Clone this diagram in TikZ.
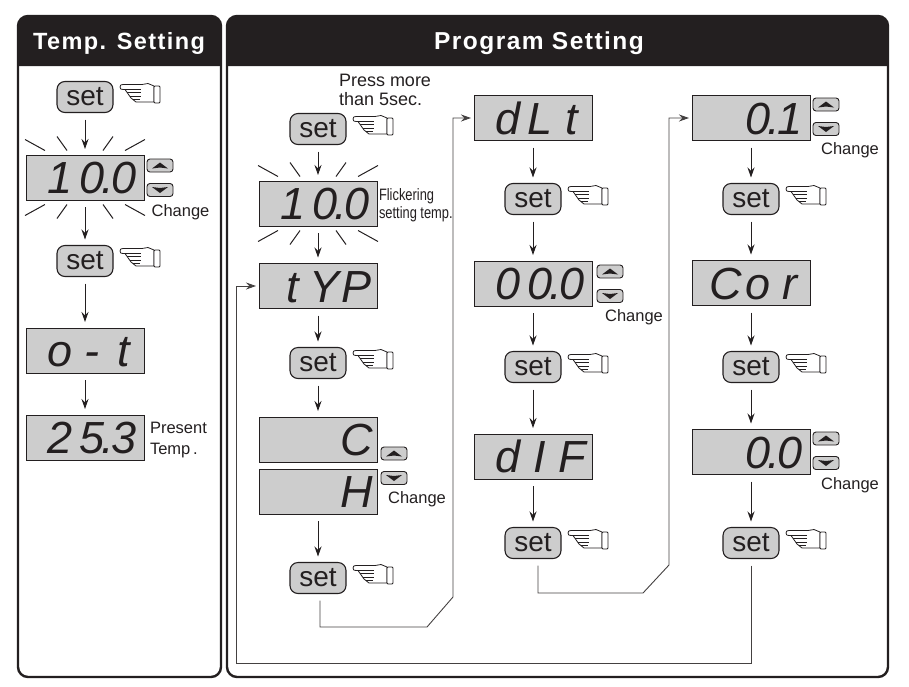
\documentclass[tikz,border=0pt]{standalone}
\usepackage{fontspec}
\setmainfont{Liberation Sans}
\newfontfamily\headfont[LetterSpace=6]{Liberation Sans}
\newfontfamily\narrowfont[FakeStretch=0.78]{Liberation Sans}
\usetikzlibrary{arrows.meta}
\definecolor{ink}{HTML}{231F20}
\definecolor{lcdgray}{HTML}{CDCDCD}
\newcommand\cell[1]{\makebox[32pt][c]{#1}}
\newcommand\lcddot{\makebox[0pt][c]{.}}
\tikzset{
  setkey/.style={draw=ink, line width=1.1pt, fill=lcdgray, rounded corners=8pt, minimum width=56pt, minimum height=31pt, inner sep=0pt, outer sep=0pt, font=\fontsize{28}{28}\selectfont, text=ink},
  lcd/.style={draw=ink, line width=1pt, fill=lcdgray, text width=110pt, inner xsep=4pt, inner ysep=0pt, outer sep=0pt, minimum height=45pt, text height=32pt, text depth=0pt, align=right, font=\itshape\fontsize{45}{45}\selectfont, text=ink},
  note/.style={inner sep=0pt, outer sep=0pt, anchor=base west, font=\fontsize{16.5}{21}\selectfont, text=ink, align=left},
  head/.style={text=white, inner sep=0pt, font=\headfont\bfseries\fontsize{24.5}{24.5}\selectfont},
  panel/.style={draw=ink, line width=2.4pt, rounded corners=10pt},
  flow/.style={draw=ink, line width=.9pt, -{Stealth[length=10pt,width=7pt]}, shorten <=7pt, shorten >=6pt},
  route/.style={draw=ink!85, line width=.9pt, -{Stealth[length=10pt,width=7pt]}, shorten <=7pt, shorten >=3pt},
  hand/.pic={
    \draw[ink, line width=.8pt, fill=white, line join=round] (0,0) .. controls (0,-2) and (1,-2.5) .. (3,-2.5) -- (22,-2.5) -- (28,-3.5) -- (34,-1) -- (34,15) -- (16,15) -- (11,11) -- (5,2.5) -- (3,2.5) .. controls (1,2.5) and (0,2) .. (0,0) -- cycle;
    \draw[ink, line width=.8pt, fill=white, rounded corners=1pt] (34,-1) rectangle (40,16);
    \draw[ink, line width=.8pt] (5,2.5) -- (21,2.5) (7,5.5) -- (21,5.5) (10,9) -- (21,9) (13,12) -- (20,12);
  },
  flash/.pic={
    \foreach \sx in {-1,1} \foreach \sy in {-1,1} {
      \draw[ink, line width=1pt] (\sx*40,\sy*27) -- (\sx*60,\sy*38);
      \draw[ink, line width=1pt] (\sx*18,\sy*27) -- (\sx*28,\sy*41);
    }
  },
  updown/.pic={
    \draw[ink, line width=.9pt, fill=lcdgray, rounded corners=3pt] (0,0) rectangle (26,13);
    \draw[ink, line width=.9pt, fill=lcdgray, rounded corners=3pt] (0,24.5) rectangle (26,37.5);
    \fill[ink] (5,9.5) -- (13,3.5) -- (21,9.5) -- (13,8.5) -- cycle;
    \fill[ink] (5,28) -- (13,29) -- (21,28) -- (13,34) -- cycle;
  }
}
\begin{document}
\begin{tikzpicture}[x=1pt, y=-1pt]
  \useasboundingbox (0,0) rectangle (909,686);
  % Panels
  \fill[ink] (18,66) [rounded corners=10pt] -- (18,16) -- (221,16) [sharp corners] -- (221,66) -- cycle;
  \fill[ink] (227,66) [rounded corners=10pt] -- (227,16) -- (888,16) [sharp corners] -- (888,66) -- cycle;
  \draw[panel] (18,16) rectangle (221,677);
  \draw[panel] (227,16) rectangle (888,677);
  \node[head, font=\headfont\bfseries\fontsize{23.5}{23.5}\selectfont] (headT) at (119,43) {Temp. Setting};
  \node[head] (headP) at (539,43) {Program Setting};
  % Set keys
  \foreach \n/\x/\y in {setA/85/97, setB/85/261, setC/318/129, setD/318/363, setE/318/578, setF/533/199, setG/533/367, setH/533/543, setI/751/199, setJ/751/367, setK/751/543} {
    \node[setkey] (\n) at (\x,\y) {set};
    \pic at ([shift={(7,-10)}]\n.east) {hand};
  }
  % Displays
  \node[lcd] (lcdA) at (85,177.5) {\cell1\cell0\lcddot\cell0};
  \node[lcd] (lcdB) at (85,350.5) {\cell o\cell -\cell t};
  \node[lcd] (lcdC) at (85,437.5) {\cell2\cell5\lcddot\cell3};
  \node[lcd] (lcdD) at (318,203.5) {\cell1\cell0\lcddot\cell0};
  \node[lcd] (lcdE) at (318,286) {\cell t\cell Y\cell P};
  \node[lcd] (lcdF) at (318,439.5) {\cell C};
  \node[lcd] (lcdG) at (318,491.5) {\cell H};
  \node[lcd] (lcdH) at (533,118) {\cell d\cell L\cell t};
  \node[lcd] (lcdI) at (533,283.5) {\cell0\cell0\lcddot\cell0};
  \node[lcd] (lcdJ) at (533,456.5) {\cell d\cell I\cell F};
  \node[lcd] (lcdK) at (751,118) {\cell0\lcddot\cell1};
  \node[lcd] (lcdL) at (751,283) {\cell C\cell o\cell r};
  \node[lcd] (lcdM) at (751,452) {\cell0\lcddot\cell0};
  % Flashing rays
  \pic at (lcdA.center) {flash};
  \pic at (lcdD.center) {flash};
  % Up and down keys
  \foreach \x/\y in {147/159, 381/447, 597/265, 813/98, 813/432} \pic at (\x,\y) {updown};
  % Notes
  \node[note, anchor=center] (chgA) at (180.5,212) {Change};
  \node[note, anchor=center] (chgB) at (417,499) {Change};
  \node[note, anchor=center] (chgC) at (634,317) {Change};
  \node[note, anchor=center] (chgD) at (850,150) {Change};
  \node[note, anchor=center] (chgE) at (850,485) {Change};
  \node[note] (present) at (150,454) {Present\\Temp\,.};
  \node[note, font=\fontsize{18}{19}\selectfont] (press) at (339,105) {Press more\\than 5sec.};
  \node[note, font=\narrowfont\fontsize{16.5}{18}\selectfont] (flick) at (379,218) {Flickering\\setting temp.};
  % Straight steps
  \foreach \a/\b in {setA/lcdA, lcdA/setB, setB/lcdB, lcdB/lcdC, setC/lcdD, lcdD/lcdE, lcdE/setD, setD/lcdF, lcdG/setE, lcdH/setF, setF/lcdI, lcdI/setG, setG/lcdJ, lcdJ/setH, lcdK/setI, setI/lcdL, lcdL/setJ, setJ/lcdM, lcdM/setK}
    \draw[flow] (\a.south) -- (\b.north);
  % Long routes
  \coordinate (bendA) at (427,627);
  \coordinate (bendB) at (453,597);
  \coordinate (bendC) at (643,593);
  \coordinate (bendD) at (669,565);
  \coordinate (backA) at (236,663);
  \draw[route] ([xshift=2pt]setE.south) |- (bendA) -- (bendB) |- (lcdH.west);
  \draw[route] ([xshift=5pt]setH.south) |- (bendC) -- (bendD) |- (lcdK.west);
  \draw[route] (setK.south) |- (backA) |- (lcdE.west);
\end{tikzpicture}
\end{document}
